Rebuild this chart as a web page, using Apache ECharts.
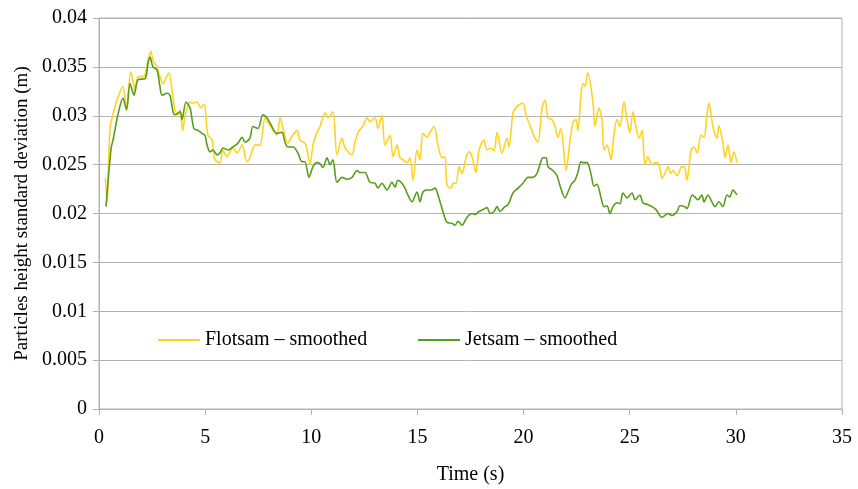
<!DOCTYPE html>
<html>
<head>
<meta charset="utf-8">
<script src="https://cdn.jsdelivr.net/npm/echarts@6/dist/echarts.min.js"></script>
<style>html,body{margin:0;padding:0;background:#fff}#c{width:858px;height:489px}</style>
</head>
<body>
<div id="c"></div>
<script>
var seriesNames = ['Flotsam – smoothed', 'Jetsam – smoothed'];
var xTicks = [0, 5, 10, 15, 20, 25, 30, 35];
var yTicks = [0, 0.005, 0.01, 0.015, 0.02, 0.025, 0.03, 0.035, 0.04];

var flotsamTime = [0.30,0.38,0.52,0.75,0.89,1.12,1.30,1.49,1.59,1.70,1.84,2.07,2.17,2.31,2.44,2.54,2.72,2.87,3.01,3.19,3.30,3.44,3.58,3.72,3.82,3.94,4.05,4.29,4.43,4.62,4.80,4.95,5.13,5.32,5.46,5.70,5.84,6.03,6.17,6.31,6.50,6.74,6.97,7.11,7.35,7.58,7.82,7.96,8.15,8.38,8.53,8.67,8.90,9.09,9.33,9.47,9.70,9.80,9.94,10.08,10.27,10.41,10.65,10.79,11.02,11.21,11.45,11.59,11.92,12.06,12.20,12.44,12.62,12.76,13.00,13.14,13.33,13.47,13.71,13.85,14.04,14.18,14.32,14.51,14.65,14.79,14.98,15.12,15.26,15.45,15.59,15.78,15.97,16.16,16.30,16.39,16.58,16.67,16.82,16.96,17.10,17.29,17.43,17.57,17.76,17.90,18.13,18.28,18.46,18.61,18.75,18.98,19.22,19.31,19.50,19.64,19.78,19.97,20.11,20.30,20.54,20.68,20.87,21.01,21.15,21.34,21.48,21.62,21.76,22.00,22.18,22.33,22.47,22.56,22.70,22.80,22.89,23.03,23.27,23.36,23.55,23.69,23.79,23.93,24.12,24.21,24.40,24.54,24.73,24.87,25.01,25.15,25.29,25.44,25.58,25.72,25.86,26.05,26.24,26.38,26.52,26.66,26.80,26.94,27.04,27.23,27.46,27.60,27.70,27.89,28.03,28.17,28.36,28.50,28.64,28.73,28.92,29.11,29.20,29.39,29.49,29.63,29.77,29.91,30.05];
var flotsamValue = [0.0236,0.0211,0.0287,0.0309,0.0319,0.0330,0.0308,0.0345,0.0337,0.0326,0.0340,0.0340,0.0342,0.0357,0.0366,0.0357,0.0350,0.0340,0.0333,0.0340,0.0344,0.0326,0.0306,0.0301,0.0306,0.0285,0.0299,0.0314,0.0313,0.0314,0.0308,0.0312,0.0280,0.0276,0.0255,0.0252,0.0265,0.0258,0.0263,0.0267,0.0262,0.0270,0.0253,0.0257,0.0270,0.0270,0.0298,0.0293,0.0287,0.0280,0.0298,0.0287,0.0272,0.0279,0.0285,0.0275,0.0272,0.0265,0.0250,0.0270,0.0283,0.0289,0.0303,0.0298,0.0304,0.0260,0.0277,0.0267,0.0260,0.0273,0.0283,0.0290,0.0298,0.0294,0.0298,0.0287,0.0301,0.0270,0.0280,0.0258,0.0270,0.0257,0.0255,0.0252,0.0257,0.0234,0.0265,0.0255,0.0282,0.0278,0.0283,0.0289,0.0270,0.0257,0.0258,0.0229,0.0226,0.0231,0.0231,0.0248,0.0241,0.0257,0.0263,0.0258,0.0242,0.0265,0.0275,0.0265,0.0267,0.0264,0.0283,0.0262,0.0277,0.0268,0.0303,0.0308,0.0311,0.0313,0.0301,0.0290,0.0277,0.0273,0.0308,0.0316,0.0298,0.0296,0.0289,0.0278,0.0287,0.0244,0.0273,0.0293,0.0296,0.0285,0.0321,0.0333,0.0330,0.0344,0.0313,0.0289,0.0308,0.0296,0.0265,0.0270,0.0255,0.0272,0.0296,0.0289,0.0314,0.0296,0.0283,0.0304,0.0289,0.0277,0.0285,0.0250,0.0258,0.0250,0.0252,0.0250,0.0236,0.0241,0.0248,0.0241,0.0244,0.0239,0.0248,0.0247,0.0234,0.0265,0.0268,0.0262,0.0280,0.0278,0.0301,0.0313,0.0289,0.0277,0.0290,0.0272,0.0257,0.0270,0.0252,0.0263,0.0252];

var jetsamTime = [0.33,0.57,0.66,0.89,1.13,1.30,1.46,1.65,1.84,2.17,2.31,2.40,2.54,2.73,2.87,2.97,3.20,3.34,3.49,3.58,3.82,3.91,4.10,4.29,4.47,4.66,4.85,4.99,5.09,5.23,5.37,5.56,5.70,5.84,6.08,6.31,6.55,6.74,6.88,7.11,7.25,7.49,7.72,7.91,8.05,8.38,8.62,8.76,8.90,9.14,9.37,9.56,9.70,9.89,10.08,10.27,10.41,10.55,10.74,10.88,11.02,11.21,11.45,11.68,11.92,12.15,12.29,12.53,12.76,13.00,13.14,13.33,13.57,13.80,13.94,14.08,14.27,14.41,14.55,14.74,14.98,15.12,15.26,15.45,15.64,15.83,15.97,16.20,16.39,16.63,16.77,16.91,17.10,17.33,17.57,17.71,17.90,18.09,18.28,18.42,18.61,18.75,18.89,19.12,19.27,19.50,19.74,19.97,20.21,20.44,20.63,20.77,20.91,21.06,21.15,21.38,21.57,21.71,21.95,22.09,22.28,22.42,22.56,22.70,22.80,22.99,23.17,23.32,23.46,23.65,23.79,23.93,24.07,24.21,24.40,24.54,24.68,24.87,25.11,25.25,25.48,25.62,25.86,26.05,26.24,26.52,26.66,26.80,26.99,27.23,27.37,27.60,27.70,27.94,28.07,28.21,28.40,28.50,28.69,28.87,29.02,29.20,29.39,29.58,29.72,29.86,30.05];
var jetsamValue = [0.0207,0.0267,0.0275,0.0301,0.0318,0.0306,0.0333,0.0321,0.0337,0.0338,0.0354,0.0360,0.0350,0.0347,0.0330,0.0321,0.0323,0.0321,0.0304,0.0301,0.0304,0.0296,0.0314,0.0308,0.0287,0.0285,0.0282,0.0280,0.0270,0.0263,0.0265,0.0260,0.0262,0.0267,0.0265,0.0268,0.0272,0.0278,0.0273,0.0277,0.0289,0.0287,0.0301,0.0298,0.0293,0.0282,0.0283,0.0273,0.0268,0.0268,0.0262,0.0253,0.0253,0.0237,0.0248,0.0252,0.0251,0.0247,0.0257,0.0250,0.0255,0.0232,0.0237,0.0235,0.0237,0.0244,0.0242,0.0242,0.0232,0.0231,0.0226,0.0231,0.0224,0.0232,0.0227,0.0234,0.0231,0.0226,0.0219,0.0212,0.0222,0.0212,0.0222,0.0224,0.0224,0.0226,0.0219,0.0202,0.0191,0.0190,0.0188,0.0192,0.0188,0.0196,0.0200,0.0199,0.0202,0.0204,0.0206,0.0200,0.0202,0.0207,0.0202,0.0207,0.0209,0.0221,0.0226,0.0231,0.0237,0.0237,0.0241,0.0250,0.0257,0.0257,0.0248,0.0244,0.0239,0.0229,0.0216,0.0222,0.0231,0.0234,0.0242,0.0253,0.0252,0.0252,0.0241,0.0228,0.0230,0.0216,0.0207,0.0208,0.0200,0.0207,0.0211,0.0210,0.0221,0.0216,0.0221,0.0214,0.0219,0.0211,0.0209,0.0207,0.0204,0.0196,0.0198,0.0200,0.0198,0.0202,0.0208,0.0207,0.0205,0.0219,0.0217,0.0214,0.0219,0.0212,0.0219,0.0212,0.0207,0.0212,0.0207,0.0219,0.0217,0.0224,0.0219];

function pairs(t, v) { return t.map(function (x, i) { return [x, v[i]]; }); }

var FONT = 'Liberation Serif';
var legendCommon = { itemWidth: 42, itemHeight: 14, itemGap: 6,
  itemStyle: { opacity: 0 },
  textStyle: { fontFamily: FONT, fontSize: 20, color: '#000' } };
var chart = echarts.init(document.getElementById('c'), null, { renderer: 'canvas' });
chart.setOption({
  animation: false,
  backgroundColor: '#ffffff',
  grid: { left: 99, right: 16, top: 18, bottom: 80, outerBoundsMode: 'none', containLabel: false,
    show: true, borderColor: '#b3b3b3', borderWidth: 1, backgroundColor: 'transparent' },
  legend: [
    Object.assign({ data: [seriesNames[0]], left: 152, top: 325 }, legendCommon),
    Object.assign({ data: [seriesNames[1]], left: 412, top: 325 }, legendCommon)
  ],
  xAxis: {
    type: 'value', min: xTicks[0], max: xTicks[xTicks.length - 1], interval: 5,
    name: 'Time (s)', nameLocation: 'middle', nameGap: 56,
    nameTextStyle: { fontFamily: FONT, fontSize: 20, color: '#000' },
    axisLine: { show: true, lineStyle: { color: '#b3b3b3', width: 1 } },
    axisTick: { show: true, length: 6, lineStyle: { color: '#b3b3b3' } },
    axisLabel: { fontFamily: FONT, fontSize: 20, color: '#000', margin: 19 },
    splitLine: { show: false }
  },
  yAxis: {
    type: 'value', min: yTicks[0], max: yTicks[yTicks.length - 1], interval: 0.005,
    name: 'Particles height standard deviation (m)', nameLocation: 'middle', nameGap: 67,
    nameTextStyle: { fontFamily: FONT, fontSize: 19, color: '#000' },
    axisLine: { show: true, lineStyle: { color: '#b3b3b3', width: 1 } },
    axisTick: { show: true, length: 6, lineStyle: { color: '#b3b3b3' } },
    axisLabel: { fontFamily: FONT, fontSize: 20, color: '#000', margin: 12,
      formatter: function (v) { return String(parseFloat(v.toFixed(4))); } },
    splitLine: { show: true, lineStyle: { color: '#b3b3b3', width: 1 } }
  },
  series: [
    { name: seriesNames[0], type: 'line', data: pairs(flotsamTime, flotsamValue), symbol: 'none',
      smooth: 0.3, lineStyle: { color: '#FFD320', width: 1.6 }, itemStyle: { color: '#FFD320' } },
    { name: seriesNames[1], type: 'line', data: pairs(jetsamTime, jetsamValue), symbol: 'none',
      smooth: 0.3, lineStyle: { color: '#579D1C', width: 1.6 }, itemStyle: { color: '#579D1C' } }
  ]
});
</script>
</body>
</html>
